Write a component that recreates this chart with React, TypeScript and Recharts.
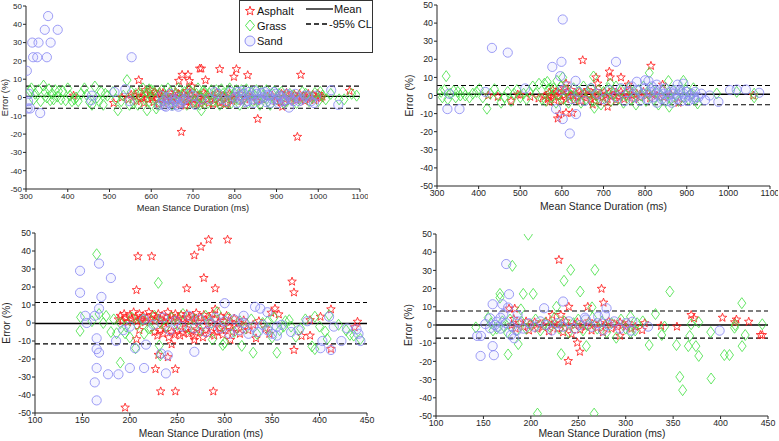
import { ScatterChart, Scatter, XAxis, YAxis, ReferenceLine, Label } from 'recharts';

type Pt = [number, number];

// ---- top left panel (ms, error %) ----
const tlAsphalt: Pt[] = [
  [414, 1], [510, -3], [530, 0], [570, 9.5], [666, 9.1], [674, 12.4], [688, 12.4], [691, 9], [698, 6], [716, 15.8],
  [720, 15.8], [730, 9.5], [764, 15.5], [798, 11.3], [804, 15.5], [831, 12.2], [958, 12.4], [672, -18.8], [855, -11.7],
  [950, -21.5], [914, -5], [1075, 3.6], [682, -4.4],
  [545, -1], [552, 1.5], [560, 1], [565, -2], [570, 3], [574, -0.5], [578, 0], [583, -3], [586, 4], [588, 2], [592, -1],
  [597, 4], [600, 1], [602, 0], [606, -2.5], [609, 3], [611, 2], [616, -1], [618, -3.5], [620, 3], [625, 0.5], [628, 2.5],
  [630, -3], [634, 1.5], [637, -2], [639, -1], [644, 2.5], [646, 0], [648, -2], [653, 0], [656, -3.5], [658, 3], [662, -1.5],
  [665, 2], [667, 1], [671, -3.5], [674, 0], [676, 2], [681, -0.5], [684, -2.5], [686, 3.5], [690, -2], [693, 2], [695, 1],
  [700, -1], [703, -3.5], [705, 2], [710, -3], [712, 1], [715, 0], [718, -3.5], [722, -2], [726, 2.5], [730, 1.5], [734, -1],
  [738, -3], [745, 0.5], [748, -3.5], [752, -1.5], [756, 2.5], [760, 2], [764, -3], [768, -2.5], [772, 1], [775, 0],
  [779, -3.5], [783, -3], [787, 2], [790, 1], [794, -2], [798, -1], [805, 0.5], [812, 2], [818, -2], [825, -1], [833, 1],
  [840, 0.5], [852, -2], [865, -1], [878, 0.5], [890, 1], [898, -2], [905, 0], [910, -2.5], [912, 2], [917, 0.5], [920, -1],
  [924, 2.5], [928, 1], [932, -2], [935, -0.5], [940, 0.5], [943, 1.5], [947, -1.5], [950, 0], [955, 2], [958, -1], [962, 0],
  [965, 1], [968, -2], [972, 0.5], [976, 2], [980, -1], [984, 0], [987, 1.5], [991, -1.5], [995, 0], [999, 2], [1003, 1],
  [1006, -0.5], [1010, 0.5],
];
const tlGrass: Pt[] = [
  [310, 3.5], [313, 5], [318, -1], [322, 2], [330, 4], [335, -2], [342, 6.5], [346, 3], [350, 0], [355, 4.5], [358, -1.5],
  [362, 2], [366, -1], [370, 4], [375, 0.5], [378, 3.5], [384, -1], [388, 3.5], [395, -1.5], [400, 5], [405, 1], [410, -2],
  [416, -1], [420, 0], [425, -2], [432, 2], [440, 5], [445, 1.5], [452, -2.5], [458, -4], [465, 6], [470, 0], [475, -2],
  [480, 3], [485, -4], [490, 2], [495, 1], [508, 3], [515, -1], [520, -7], [528, -2], [533, 1], [542, 9.5], [548, -4],
  [552, 3], [590, -7], [595, 4.5], [612, -6], [720, -7], [1030, 2], [1050, -1], [1062, -1], [1080, 2], [1092, 1],
  [558, -3], [563, 2], [568, -4], [575, 2], [580, 5], [585, -1], [590, 3], [595, -2], [600, 4], [605, 3.5], [610, -1],
  [615, -4], [620, 2], [625, 4], [630, -2], [635, -1], [640, 5], [645, 3], [650, -4], [655, -3], [660, 2], [665, 5],
  [670, -1], [675, 1], [680, 3], [685, -4], [690, 4.5], [695, 3], [700, -3], [705, -2], [708, 2], [712, 5], [716, -4],
  [720, 0], [724, 3.5], [728, 3], [732, -1], [736, -3], [740, 2], [744, 4], [748, -2], [752, 1], [756, 4], [760, -2],
  [764, -4], [768, 4.5], [772, 2], [776, 0], [780, -3], [784, 3], [788, 5], [792, -3], [796, 0], [800, 2], [804, 4],
  [808, -1], [812, -4], [816, 4], [820, 2], [824, 0], [828, 4.5], [832, -3], [836, 1], [840, 3], [844, -2], [848, 1],
  [852, 4], [856, -2], [860, -4], [864, 3], [868, 1], [872, 0], [876, 4], [880, -2], [885, -4], [890, 2], [895, 3.5],
  [900, -1], [906, 2], [912, 3], [918, -3], [925, -2], [932, 2], [940, 1], [948, -3], [955, -1], [962, 3], [970, 2],
  [978, -2], [985, 0], [992, 2.5], [1000, -2], [1005, 3], [1010, 1], [1018, -1],
];
const tlSand: Pt[] = [
  [302, 14.6], [304, -6], [310, -6], [334, -8.5], [307, 2], [305, -2], [315, 30], [330, 30], [359, 30], [345, 37],
  [376, 37], [353, 44.5], [317, 22], [327, 22], [350, 22], [553, 22], [538, 4.5], [458, 1], [456, -1.5], [1031, 4],
  [1048, -4], [930, -5.5], [705, -4], [548, -2], [512, 3],
  [620, -4], [625, 1], [628, -2], [632, -4.5], [635, -5], [638, 0], [642, -3], [646, 2], [650, -4.5], [654, -1], [658, -2],
  [662, -4], [665, -5], [668, 0], [672, -3], [676, -1.5], [680, -1], [690, 2], [700, 1], [720, -1], [740, -1], [752, 3],
  [760, 2], [770, -1], [780, -2], [790, 3], [800, 0], [805, -3], [808, 3], [812, 1], [815, -1], [818, 3.5], [822, 2],
  [826, -2.5], [830, -2], [834, 3], [838, 1], [842, -1], [845, -3], [848, 3.5], [852, 2], [856, -1], [860, -1], [864, 2.5],
  [868, 0], [872, 3], [875, -2.5], [878, 1.5], [882, 1], [886, -3], [890, -1], [894, 3], [898, 2], [902, -1], [905, -3],
  [908, 1], [912, 0], [916, -2], [920, -1.5], [925, 2], [930, 1], [935, -1], [940, -2], [945, 2], [950, 0], [955, -2],
  [960, -1], [968, 1], [975, 1], [983, -2], [990, -3], [995, 1],
];

// ---- top right panel ----
const trAsphalt: Pt[] = [
  [650, 19.5], [814, 16.4], [714, 13.2], [716, 10], [682, 10], [742, 10], [686, 6.6], [610, 6.6], [590, -12.7],
  [594, -10.5], [610, -9.6], [625, -9.6], [710, -6.2], [674, -5], [570, -3.5], [478, -3], [423, 0], [446, -0.7],
  [494, 0.5], [500, 0.3], [524, -0.7], [544, -1.6], [558, -0.4], [1060, 0], [760, 6], [842, 6], [605, 4], [578, 3],
  [562, 0], [566, -2], [570, 1.5], [574, -1], [578, 0.5], [582, -2.5], [586, 2], [590, -0.5], [594, 1], [598, -3],
  [602, 2.5], [606, 0], [610, -2], [614, 1.5], [618, -1], [622, 3], [626, 0], [630, -2.5], [634, 1], [638, -1], [642, 2],
  [646, -3], [650, 0.5], [654, 1.5], [658, -1.5], [662, 3], [666, 0], [670, -2], [674, 1], [678, -1], [682, 2.5], [686, 0],
  [690, -3], [694, 1], [698, -1], [702, 2], [706, 0], [710, -2], [714, 1.5], [718, -0.5], [722, 3], [726, 0], [730, -2.5],
  [734, 1], [738, -1], [742, 2], [746, 0], [750, -2], [754, 1.5], [758, -1], [762, 2.5], [768, 0], [774, -2], [780, 1],
  [788, -1], [796, 2], [804, 0], [812, -1.5], [820, 1], [828, 0], [845, -1], [862, 0.5], [880, -4],
];
const trGrass: Pt[] = [
  [310, 2], [313, -1], [318, 3], [322, 10.7], [326, -2], [332, 1], [340, 2.5], [345, -1], [350, 2], [356, 0], [362, 2],
  [368, 0], [378, -1.1], [386, 1], [395, 2], [402, 3.5], [410, -1], [420, -7.3], [428, 1], [438, 3.5], [447, 0], [454, -4],
  [462, -1], [470, 2], [478, -3], [485, 1], [492, 3], [500, -1], [508, 1], [515, -2], [522, 2], [530, 5], [538, 1],
  [545, 6.5], [552, -2], [558, 6.5], [565, 7.5], [572, 4], [588, 8.1], [602, 10], [676, 10.5], [716, 6.6], [810, 12.5],
  [892, 8.1], [856, 8], [858, -6.2], [678, -6.8], [926, -4.4], [972, 1.1], [1020, 2], [1062, -1], [1062, 1],
  [562, -3], [568, 3], [574, -1], [580, 4], [586, -4], [592, 1], [598, 5], [604, -2], [610, 3], [616, -4], [622, 0],
  [628, 4], [634, -1], [640, 2], [646, -4], [652, 5], [658, -2], [664, 1], [670, 4], [676, -3], [682, 0], [688, 3],
  [694, -5], [700, 2], [706, -1], [712, 4], [718, -3], [724, 1], [730, 5], [736, -2], [742, 3], [748, -4], [754, 0],
  [760, 4], [766, -2], [772, 2], [778, -5], [784, 3], [790, 0], [796, 5], [802, -3], [808, 1], [814, 4], [820, -2],
  [826, 2], [832, -5], [838, 0], [844, 3], [850, -3], [856, 1], [862, -2], [868, 3], [874, 0], [880, -3], [886, 2],
  [892, -1], [898, 3], [904, -2], [910, 1], [916, 4], [922, -2],
];
const trSand: Pt[] = [
  [602, 42], [432, 26.3], [470, 23.7], [599, 18.6], [730, 18.6], [577, 15.8], [596, 10.7], [633, 8.1], [586, -7.5],
  [602, -13], [619, -21], [634, -10.3], [325, -7.5], [354, -7.5], [329, 1], [512, 3.9], [416, 2], [1004, 3], [1020, 3.3],
  [1042, 3.3], [1074, 1.5], [976, -3.5], [944, -2.6], [780, 7.6], [800, 8.4], [808, 8], [828, 6], [878, 6], [892, 6.5],
  [955, 0], [935, 1], [918, -1],
  [600, 3], [612, 5], [625, -2], [640, 2], [655, -3], [670, 4], [685, 1], [700, -2], [715, 3], [730, -1], [742, 4],
  [752, -3], [760, 2], [768, 5], [775, -1], [782, 3], [788, -3], [794, 1], [800, 4], [806, -2], [812, 2], [816, 5],
  [820, -1], [824, 3], [828, -4], [832, 0], [836, 3], [840, -2], [844, 1], [848, 4], [852, -3], [856, 0], [860, 2],
  [864, -4], [868, 1], [872, 3], [876, -2], [880, 0], [884, 3], [888, -3], [892, 1], [896, -1], [900, 2], [904, -3],
  [908, 0], [912, 1], [916, -2], [920, 2], [928, -1],
];

// ---- bottom left panel ----
const blAsphalt: Pt[] = [
  [208.5, 37], [223, 37], [207, 18.3], [260, 19.2], [268, 37.6], [275, 42.3], [283, 46.3], [303, 46.3], [278, 25],
  [290, 19.2], [371, 23], [373, 17], [195, -47], [232.5, -38], [248, -38], [288, -38], [227, -25.6], [248, -25.6],
  [230, -17.7], [240, -19], [244, -11.8], [268, -9.4], [373, -15], [381, -7.2], [390, 1.6], [401, 3.5], [440, 0.7],
  [437, -2.4], [412, -14.4], [353, 8], [357, 4.8], [349, 5.7], [412, 7.6], [290, 7.6], [306, -9.4], [333, -8.5],
  [207, -9], [210, -3.9], [211, 1.5], [336, 1], [343, -3], [347, -6], [390, -7],
  [188, 2], [190, 4], [192, 1], [194, 5], [196, 3], [198, 0.5], [200, 4], [202, 2], [204, 6], [206, 3], [208, 1],
  [210, 5], [212, 2.5], [214, 4], [216, 0.5], [218, 3], [220, 6], [222, 2], [224, 4.5], [226, 1], [228, 3], [230, 5],
  [232, 2], [234, 4], [236, 0.5], [238, 3], [240, 6], [242, 1.5], [244, 4], [246, 2.5], [248, 5], [250, 1], [252, 3],
  [254, 4.5], [256, 2], [258, 0], [260, 5], [262, 3], [264, 1], [266, 4], [268, 2], [270, 5.5], [272, 0.5], [275, 3],
  [278, 4.5], [281, 1], [284, 3], [287, 5], [290, 2], [293, 0], [296, 3.5], [299, 1], [302, 4], [306, 0.5], [310, 2.5],
  [315, 0], [320, 1.5],
  [226, -5], [229, -7], [232, -4], [235, -6], [238, -3], [241, -8], [244, -5], [247, -6.5], [250, -4], [253, -7],
  [256, -5.5], [259, -3], [262, -6], [265, -4.5], [268, -7.5], [271, -3.5], [274, -5], [277, -8], [280, -4], [283, -6],
  [286, -2.5], [289, -7], [292, -5], [295, -3], [298, -6.5], [301, -4], [304, -2], [308, -5], [312, -3], [316, -6],
  [320, -2], [325, -4], [330, -1],
];
const blGrass: Pt[] = [
  [165, 38.2], [230, 22.3], [190, -22], [147.5, -4.4], [148, 3.2], [167.5, 5], [175, 3.9], [180, -5], [186, -5.7],
  [195, -5.7], [206, -14], [231, -12.5], [232, -18], [287, -9.2], [298, -12.2], [318, -12.7], [330, -16.5], [355, -16.5],
  [392, -13], [395, -14.5], [406, -4.8], [408, -8.9], [432, -6.6], [443, -8.9], [375, -7.6], [345, 0.7], [368, 1.6],
  [395, 3.5], [410, 4.4], [172, 0], [183, 2], [160, 1], [200, -8], [215, -6], [222, -3], [300, -11], [350, -8],
  [362, -2], [380, -3], [385, 2], [400, -2], [420, -1], [428, -4], [436, -7],
  [190, 0], [196, -2], [202, 3], [208, -1], [214, 2], [220, -3], [226, 4], [232, 0], [238, -2], [244, 3], [250, -1],
  [256, 5], [262, -3], [268, 2], [274, -4], [280, 4], [286, 0], [292, 6], [298, -2], [304, 3], [310, -5], [316, 1],
  [322, -3], [328, 2], [334, -6], [340, 0], [346, -3], [352, 3], [358, -4], [364, 1], [370, -2],
];
const blSand: Pt[] = [
  [147.5, 29], [147.5, 16.8], [167.5, 33], [180, 25], [170, 14.5], [167.5, 8], [153, 4], [163, 4], [154.5, 0],
  [165, -8.5], [165, -14.5], [167.5, -16.5], [165, -25], [163, -33], [165, -43], [177, -28.5], [188, -28.5], [200, -25],
  [215, -25], [185.5, -10], [217, -12], [193, -4], [205.5, -14], [268, -16], [233, -17], [240, -18], [238, -28], [300, 11],
  [332, 9], [337.5, 8], [401, -14], [403, -10], [412, -15], [423, -10], [443, -10], [439, -3.5], [441, -6], [429, -3],
  [415, -2], [410, 3.5], [387, 1], [360, -1], [345, 6], [320, 4], [370, -5], [378, -4], [355, -7],
  [200, -2], [215, 2], [225, -1], [235, 3], [242, -4], [248, 1], [255, -2], [262, 4], [268, -3], [274, 2], [280, -5],
  [285, 0], [290, 3], [295, -3], [300, 1], [305, -6], [310, 2], [315, -4], [320, 0], [325, -6], [330, -2], [335, -5],
  [340, -1], [345, -4], [350, -6], [355, -2],
];

// ---- bottom right panel ----
const brAsphalt: Pt[] = [
  [229.6, 35.8], [274.5, 19.9], [276.6, 12.3], [260, 10], [240, 10], [177, 9], [183, 9], [182, 3.3], [222.5, 5.5],
  [239.4, -19.8], [251.7, -14.7], [249, -9.7], [231.7, 5.5], [369, 5.5], [372, 3.7], [354, -0.9], [402, 4], [415, 1.5],
  [416.7, 3], [429.7, 1.8], [442, -5.5], [444, -5.5], [337.3, -0.5], [317.3, -2.8], [294, -5.9], [310, -1], [320, 1],
  [180, 0], [184, -2], [188, 1], [192, -1], [195, 2], [198, -3], [201, 0], [204, 1.5], [207, -2], [210, 0.5], [213, -1],
  [216, 2], [219, -3.5], [222, 0], [225, 1], [228, -2], [231, 0.5], [234, -4], [237, 2], [240, -1], [243, -5], [246, 0],
  [249, 1.5], [252, -2.5], [255, 0], [258, -1], [261, 2], [264, -3], [267, 0.5], [270, -1.5], [273, 1], [276, -4],
  [279, 0], [282, 2], [285, -2], [288, 0.5], [291, -1], [294, 1.5], [297, 0], [300, -1], [303, 1], [306, -2],
];
const brGrass: Pt[] = [
  [197.3, 49.6], [180.5, 32.5], [167.4, 17.1], [167.4, 15], [192, 17.1], [202.5, 17.1], [235, 24.3], [242, 30.3],
  [267.5, 30.3], [252, 18.4], [227, 10], [189.5, 8.6], [264.5, 9.7], [258.5, -11.6], [232, -16], [176, -16.2],
  [186.7, -10.5], [207, -48.7], [266.7, -48.7], [346.5, 18.4], [357, -28.5], [360, -35.8], [353.5, -11], [366, -11.6],
  [374, -11.6], [377, -17], [390, -29.4], [389.6, -3.9], [367.5, -6], [369, 0.4], [377, 1.5], [404, -16.5],
  [409.4, -16.5], [414.7, -1.5], [415.4, 0], [422.4, 12], [422.7, -11.6], [426, -5.5], [444, 0.4], [324.7, -11],
  [331.4, 6], [338, -5.5], [341, -0.9], [142, -1.3], [155, 4], [160, -3], [170, 2], [175, -4], [305, 4.5], [310, -3],
  [318, 2],
  [158, 1], [164, -2], [172, -1], [178, 3], [185, -3], [190, 2], [195, -2], [200, 0], [205, 3], [210, -3], [215, 1],
  [220, -1], [225, 4], [230, -2], [235, 2], [240, -4], [245, 1], [250, 3], [255, -3], [260, 0], [265, 4], [270, -2],
  [275, 2], [280, -4], [285, 1], [290, -7], [295, 3], [300, -2], [305, -4], [312, 1],
];
const brSand: Pt[] = [
  [174, 33.5], [177, 16.9], [159.7, 11.4], [169.9, 11.4], [234, 12.9], [214, 9.2], [176, 9.6], [186, 5.5],
  [147.4, -6], [143.5, -6], [159.7, -11.6], [161, -16.6], [147, -17], [182.5, -7.3], [179, -5.5], [306, -3.1],
  [307, 1.8], [399, -3.1], [323.6, -0.9], [278, 5.5], [271, 4.6], [257, 4], [279.8, 9.2], [171, 6], [157, 3.7],
  [164, 1.8], [157, -1.8], [152, 0.5], [168, 4], [165, -1], [185, -3],
  [162, 0], [168, -2], [174, 1], [180, -1], [186, 2], [192, -2], [198, 1], [204, -1], [210, 2], [216, 0], [222, -3],
  [228, 1], [234, -1], [240, 2], [246, -2], [252, 0], [258, 3], [264, -1], [270, 1], [276, -3], [282, 0], [288, 2],
  [294, -2], [300, 1],
];

const longTicks = [300, 400, 500, 600, 700, 800, 900, 1000, 1100];
const shortTicks = [100, 150, 200, 250, 300, 350, 400, 450];
const errTicks = [-50, -40, -30, -20, -10, 0, 10, 20, 30, 40, 50];

const RED = '#ff1f1f';
const GREEN = '#3fe03f';
const BLUE = '#8585f2';
const AXIS = '#262626';
const FONT = '"Liberation Sans", Arial, Helvetica, sans-serif';

const toXY = (pts: Pt[]) => pts.map(([x, y]) => ({ x, y }));

function starPath(cx: number, cy: number, R: number, r: number) {
  let d = '';
  for (let i = 0; i < 10; i++) {
    const rad = i % 2 === 0 ? R : r;
    const a = -Math.PI / 2 + (i * Math.PI) / 5;
    d += (i === 0 ? 'M' : 'L') + (cx + rad * Math.cos(a)).toFixed(2) + ',' + (cy + rad * Math.sin(a)).toFixed(2);
  }
  return d + 'Z';
}

function Star(props: any) {
  const { cx, cy } = props;
  if (cx == null || cy == null) return <g />;
  return <path d={starPath(cx, cy, 4.5, 1.9)} fill="none" stroke={RED} strokeWidth={0.85} />;
}

function Diamond(props: any) {
  const { cx, cy } = props;
  if (cx == null || cy == null) return <g />;
  const w = 4, h = 5.5;
  return (
    <path
      d={`M${cx},${cy - h}L${cx + w},${cy}L${cx},${cy + h}L${cx - w},${cy}Z`}
      fill="none"
      stroke={GREEN}
      strokeWidth={0.8}
    />
  );
}

function Ring(props: any) {
  const { cx, cy } = props;
  if (cx == null || cy == null) return <g />;
  return <circle cx={cx} cy={cy} r={4.6} fill="rgba(170,170,255,0.12)" stroke={BLUE} strokeWidth={0.8} />;
}

interface PanelProps {
  left: number;
  top: number;
  plotW: number;
  plotH: number;
  xMin: number;
  xMax: number;
  xTicks: number[];
  tickFont: number;
  titleFont: number;
  yLabelDx: number;
  xLabelDy: number;
  asphalt: Pt[];
  grass: Pt[];
  sand: Pt[];
  mean: number;
  upper: number;
  lower: number;
}

const YW = 40;
const MT = 8;
const MR = 8;
const XH = 30;

function Panel(p: PanelProps) {
  const yLabel = (props: any) => {
    const vb = props.viewBox || {};
    const x = vb.x + vb.width + p.yLabelDx;
    const y = vb.y + vb.height / 2;
    return (
      <text x={x} y={y} transform={`rotate(-90 ${x} ${y})`} textAnchor="middle" fontSize={p.titleFont} fill={AXIS} fontFamily={FONT}>
        Error (%)
      </text>
    );
  };
  const xLabel = (props: any) => {
    const vb = props.viewBox || {};
    return (
      <text x={vb.x + vb.width / 2} y={vb.y + p.xLabelDy} textAnchor="middle" fontSize={p.titleFont} fill={AXIS} fontFamily={FONT}>
        Mean Stance Duration (ms)
      </text>
    );
  };
  return (
    <div style={{ position: 'absolute', left: p.left - YW, top: p.top - MT }}>
      <ScatterChart
        width={YW + p.plotW + MR}
        height={MT + p.plotH + XH}
        margin={{ top: MT, right: MR, bottom: 0, left: 0 }}
        style={{ fontFamily: FONT }}
      >
        <XAxis
          type="number"
          dataKey="x"
          domain={[p.xMin, p.xMax]}
          ticks={p.xTicks}
          allowDataOverflow
          height={XH}
          stroke={AXIS}
          tickSize={3}
          tickMargin={1}
          tick={{ fontSize: p.tickFont, fill: AXIS }}
          interval={0}
        >
          <Label content={xLabel} />
        </XAxis>
        <YAxis
          type="number"
          dataKey="y"
          domain={[-50, 50]}
          ticks={errTicks}
          allowDataOverflow
          width={YW}
          stroke={AXIS}
          tickSize={3}
          tickMargin={1}
          tick={{ fontSize: p.tickFont, fill: AXIS }}
          interval={0}
        >
          <Label content={yLabel} />
        </YAxis>
        <Scatter data={toXY(p.asphalt)} shape={Star} isAnimationActive={false} />
        <Scatter data={toXY(p.grass)} shape={Diamond} isAnimationActive={false} />
        <Scatter data={toXY(p.sand)} shape={Ring} isAnimationActive={false} />
        <ReferenceLine y={p.mean} stroke="#000" strokeWidth={1.4} />
        <ReferenceLine y={p.upper} stroke="#000" strokeWidth={1.1} strokeDasharray="5 3" />
        <ReferenceLine y={p.lower} stroke="#000" strokeWidth={1.1} strokeDasharray="5 3" />
      </ScatterChart>
    </div>
  );
}

function LegendBox() {
  return (
    <svg
      width={134}
      height={53}
      style={{ position: 'absolute', left: 239, top: 0, background: '#fff', fontFamily: FONT }}
    >
      <rect x={0.5} y={0.5} width={133} height={52} fill="#fff" stroke="#333" strokeWidth={1} />
      <path d={starPath(11, 11, 4.8, 2)} fill="none" stroke={RED} strokeWidth={0.9} />
      <text x={18} y={15} fontSize={11} fill="#111">Asphalt</text>
      <path d="M11,20L15.5,25.5L11,31L6.5,25.5Z" fill="none" stroke={GREEN} strokeWidth={0.9} />
      <text x={18} y={30} fontSize={11} fill="#111">Grass</text>
      <circle cx={11} cy={41} r={5} fill="rgba(170,170,255,0.2)" stroke={BLUE} strokeWidth={0.9} />
      <text x={18} y={45} fontSize={11} fill="#111">Sand</text>
      <line x1={67} y1={9} x2={94} y2={9} stroke="#000" strokeWidth={1.3} />
      <text x={95} y={13} fontSize={11} fill="#111">Mean</text>
      <line x1={67} y1={24} x2={88} y2={24} stroke="#000" strokeWidth={1.3} strokeDasharray="5 3" />
      <text x={90} y={28} fontSize={11} fill="#111">-95% CL</text>
    </svg>
  );
}

export default function App() {
  return (
    <div style={{ position: 'fixed', left: 0, top: 0, width: 779, height: 441, background: '#fff', overflow: 'hidden' }}>
      <Panel
        left={26} top={6} plotW={334} plotH={183} xMin={300} xMax={1100} xTicks={longTicks}
        tickFont={8} titleFont={9.2} yLabelDx={-18} xLabelDy={22}
        asphalt={tlAsphalt} grass={tlGrass} sand={tlSand} mean={0.6} upper={6.2} lower={-5.9}
      />
      <Panel
        left={437} top={5} plotW={333} plotH={181} xMin={300} xMax={1100} xTicks={longTicks}
        tickFont={8.8} titleFont={10.4} yLabelDx={-24} xLabelDy={24}
        asphalt={trAsphalt} grass={trGrass} sand={trSand} mean={0.7} upper={5.5} lower={-5.1}
      />
      <Panel
        left={35} top={233} plotW={332} plotH={180} xMin={100} xMax={450} xTicks={shortTicks}
        tickFont={8.8} titleFont={10.2} yLabelDx={-25} xLabelDy={24}
        asphalt={blAsphalt} grass={blGrass} sand={blSand} mean={-0.3} upper={11.4} lower={-11.6}
      />
      <Panel
        left={436} top={234} plotW={332} plotH={182} xMin={100} xMax={450} xTicks={shortTicks}
        tickFont={8.8} titleFont={10.4} yLabelDx={-24} xLabelDy={21}
        asphalt={brAsphalt} grass={brGrass} sand={brSand} mean={0} upper={7.7} lower={-7.2}
      />
      <LegendBox />
    </div>
  );
}
